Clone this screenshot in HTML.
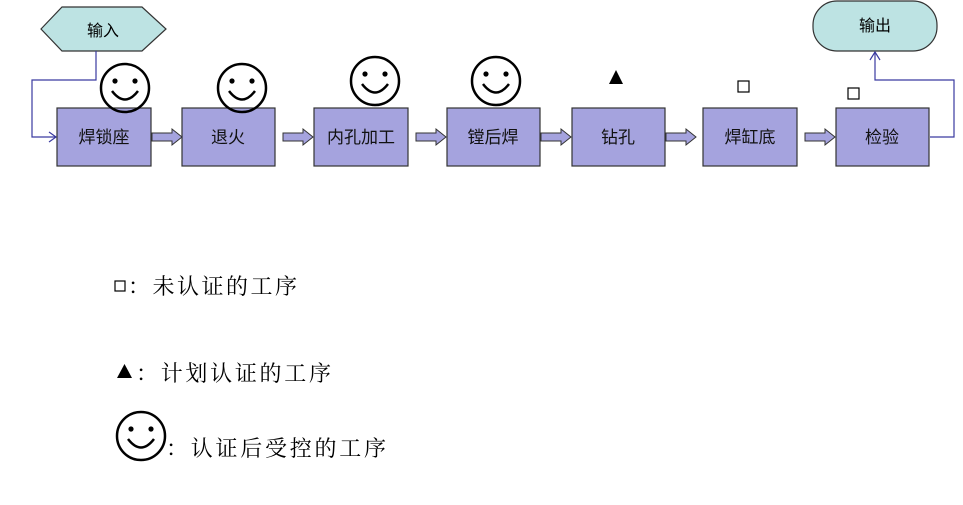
<!DOCTYPE html>
<html><head><meta charset="utf-8"><style>
html,body{margin:0;padding:0;background:#fff;width:963px;height:505px;overflow:hidden}
svg text{font-family:"Liberation Sans","Noto Sans CJK SC",sans-serif}
.s{font-family:"Noto Serif CJK SC",serif !important}
</style></head><body>
<svg width="963" height="505" viewBox="0 0 963 505" xmlns="http://www.w3.org/2000/svg">
<defs>
<g id="sm"><circle cx="0" cy="0" r="24" fill="none" stroke="#000" stroke-width="2.5"/><circle cx="-10" cy="-7" r="2.6"/><circle cx="10" cy="-7" r="2.6"/><path d="M-13,3 Q0,20 13,3" fill="none" stroke="#000" stroke-width="2.5"/></g>
<g id="ar"><path d="M0,-4 H20 V-8 L30,0 L20,8 V4 H0 Z" fill="#a5a3de" stroke="#333" stroke-width="1"/></g>
</defs>
<polygon points="41,29 62,7 142,7 166,29 142,51 62,51" fill="#bde3e3" stroke="#333" stroke-width="1.2"/>
<text x="103" y="36" font-size="16" text-anchor="middle">输入</text>
<rect x="813" y="1" width="124" height="50" rx="24" fill="#bde3e3" stroke="#333" stroke-width="1.2"/>
<text x="875" y="31" font-size="16" text-anchor="middle">输出</text>
<polyline points="96,51 96,80 32,80 32,137 56,137" fill="none" stroke="#3a3aa0" stroke-width="1.2"/>
<polyline points="49,132 56,137 49,142" fill="none" stroke="#3a3aa0" stroke-width="1.2"/>
<polyline points="930,137 954,137 954,80 875,80 875,52" fill="none" stroke="#3a3aa0" stroke-width="1.2"/>
<polyline points="870,60 875,52 880,60" fill="none" stroke="#3a3aa0" stroke-width="1.2"/>
<g fill="#a5a3de" stroke="#333" stroke-width="1.2">
<rect x="57" y="108" width="94" height="58"/>
<rect x="182" y="108" width="93" height="58"/>
<rect x="314" y="108" width="94" height="58"/>
<rect x="447" y="108" width="93" height="58"/>
<rect x="572" y="108" width="93" height="58"/>
<rect x="703" y="108" width="94" height="58"/>
<rect x="836" y="108" width="93" height="58"/>
</g>
<g font-size="17" text-anchor="middle" fill="#111">
<text x="104" y="143">焊锁座</text>
<text x="228" y="143">退火</text>
<text x="361" y="143">内孔加工</text>
<text x="493" y="143">镗后焊</text>
<text x="618" y="143">钻孔</text>
<text x="750" y="143">焊缸底</text>
<text x="882" y="143">检验</text>
</g>
<use href="#ar" x="152" y="137"/>
<use href="#ar" x="283" y="137"/>
<use href="#ar" x="416" y="137"/>
<use href="#ar" x="541" y="137"/>
<use href="#ar" x="666" y="137"/>
<use href="#ar" x="805" y="137"/>
<use href="#sm" x="125" y="88"/>
<use href="#sm" x="242" y="88"/>
<use href="#sm" x="375" y="81"/>
<use href="#sm" x="496" y="81"/>
<polygon points="609,84 616,70 623,84" fill="#000"/>
<rect x="738" y="81" width="11" height="11" fill="#fff" stroke="#000" stroke-width="1.2"/>
<rect x="848" y="88" width="11" height="11" fill="#fff" stroke="#000" stroke-width="1.2"/>
<rect x="115" y="281" width="10" height="10" fill="#fff" stroke="#000" stroke-width="1.2"/>
<text class="s" x="128" y="294" font-size="22" textLength="169" lengthAdjust="spacing">：未认证的工序</text>
<polygon points="117,378 124.5,364 132,378" fill="#000"/>
<text class="s" x="136" y="381" font-size="22" textLength="195" lengthAdjust="spacing">：计划认证的工序</text>
<use href="#sm" x="141" y="436"/>
<text class="s" x="166" y="456" font-size="22" textLength="220" lengthAdjust="spacing">：认证后受控的工序</text>
</svg>
</body></html>
